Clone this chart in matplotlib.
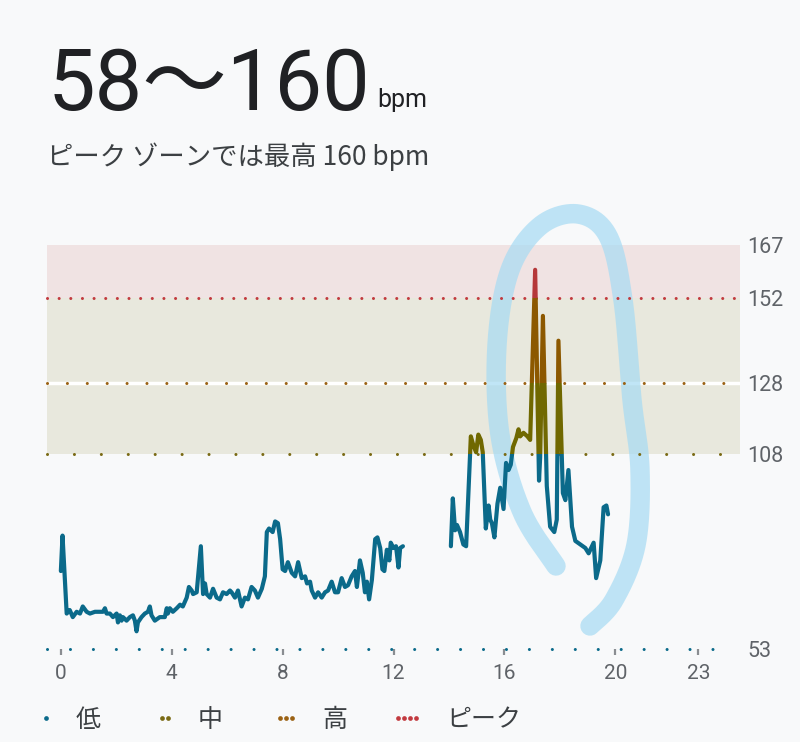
import numpy as np
import matplotlib
matplotlib.use("Agg")
from matplotlib import pyplot as plt
from matplotlib.patches import Rectangle
from matplotlib.lines import Line2D

# ── data ──────────────────────────────────────────────────────────────────────
# heart rate, first recording block (hour of day / bpm)
hours_a = [0.00, 0.06, 0.21, 0.32, 0.43, 0.57, 0.69, 0.79, 0.93, 1.05, 1.23, 1.41,
           1.52, 1.59, 1.65, 1.77, 1.88, 2.01, 2.06, 2.13, 2.19, 2.24, 2.37, 2.49,
           2.60, 2.67, 2.73, 2.78, 2.91, 3.03, 3.14, 3.21, 3.27, 3.39, 3.57, 3.75,
           3.82, 3.86, 3.93, 4.04, 4.18, 4.30, 4.40, 4.54, 4.62, 4.72, 4.77, 4.90,
           5.05, 5.13, 5.20, 5.26, 5.38, 5.49, 5.62, 5.74, 5.85, 5.98, 6.10, 6.16,
           6.28, 6.39, 6.52, 6.64, 6.75, 6.88, 7.00, 7.11, 7.25, 7.36, 7.43, 7.51,
           7.64, 7.73, 7.83, 7.91, 8.00, 8.09, 8.19, 8.33, 8.45, 8.56, 8.69, 8.81,
           8.88, 8.99, 9.05, 9.17, 9.28, 9.41, 9.53, 9.64, 9.77, 9.89, 10.00, 10.13,
           10.25, 10.36, 10.49, 10.61, 10.68, 10.79, 10.89, 10.97, 11.04, 11.12, 11.22,
           11.34, 11.42, 11.52, 11.60, 11.67, 11.76, 11.85, 11.90, 12.00, 12.09, 12.18,
           12.24, 12.34]
bpm_a = [75, 85, 63, 64, 62, 63.5, 63, 65, 63.5, 63, 63.5, 63.5,
         63.5, 64.5, 63, 63, 62, 63, 60.5, 62.5, 61, 62, 61, 62,
         62.5, 61, 58, 60.5, 62, 63, 63.5, 65, 62.5, 61, 62, 62,
         64.5, 63, 64.5, 63.5, 64.5, 65.5, 65, 67.5, 70.5, 69.5, 68.5, 69,
         82, 68.5, 71.5, 68.5, 67.5, 70, 67.5, 67, 69, 68.5, 69.5, 69,
         67.5, 69.5, 65, 67.5, 67, 70.5, 69.5, 67.5, 70, 73.5, 86, 87,
         86, 89, 88.5, 84, 75.5, 75, 77.5, 74.5, 73.5, 77.5, 73, 73.5,
         71.5, 72, 69.5, 67.5, 69, 67.5, 69, 69.5, 72, 69, 69, 73,
         70.5, 71, 73.5, 75, 70.5, 78, 74.5, 69, 72, 67, 72.5,
         84, 84.5, 81.5, 75.5, 75, 81, 78, 83, 81.5, 82, 76,
         81.5, 82]

# second recording block
hours_b = [14.07, 14.14, 14.22, 14.29, 14.40, 14.52, 14.62, 14.79, 14.88, 14.98,
           15.06, 15.15, 15.22, 15.33, 15.43, 15.49, 15.55, 15.64, 15.75, 15.85,
           15.97, 16.06, 16.15, 16.23, 16.31, 16.43, 16.51, 16.57, 16.69, 16.83,
           16.93, 17.11, 17.25, 17.29, 17.39, 17.53, 17.65, 17.80, 17.89, 17.95,
           18.11, 18.20, 18.31, 18.44, 18.56, 18.74, 18.92, 19.04, 19.22, 19.31,
           19.46, 19.58, 19.68, 19.74]
bpm_b = [82, 95.5, 86.5, 88, 86, 82.5, 82, 113, 110.5, 108.5,
         113.5, 112, 108.5, 87, 93.5, 89.5, 88.5, 84.5, 94, 98.5,
         92.5, 105.5, 103.5, 105, 110, 112.5, 115, 113, 114, 113,
         112, 160, 100.5, 107, 147, 99, 87.5, 86, 89.5, 140,
         97, 95, 103.5, 87.5, 83.5, 82.5, 81.5, 80, 83, 73,
         78, 93, 93.5, 91]

zone_edges = [53, 108, 128, 152, 167]
zone_names = ["低", "中", "高", "ピーク"]
x_ticks = [0, 4, 8, 12, 16, 20, 23]

# ── style ─────────────────────────────────────────────────────────────────────
W, H = 800, 742
BG = "#f8f9fa"
LINE_COLORS = ["#0b6a8a", "#706800", "#8c5800", "#b5383a"]
DOT_COLORS = ["#0b6a8a", "#7a6a14", "#9b6214", "#c23a3f"]
DOT_GAPS = [7.5, 8.8, 6.5, 3.8]
JP = ["Noto Sans CJK JP", "DejaVu Sans"]
NUM = ["Roboto", "Noto Sans CJK JP", "DejaVu Sans"]

plt.rcParams["font.family"] = NUM

fig = plt.figure(figsize=(W / 100, H / 100), dpi=100, facecolor=BG)
ax = fig.add_axes([47 / W, 1 - 649 / H, (740 - 47) / W, (649 - 245) / H])
ax.set_facecolor(BG)
ax.set_xlim(-0.5, 24.5)
ax.set_ylim(zone_edges[0], zone_edges[-1])
for s in ax.spines.values():
    s.set_visible(False)

# zone bands
ax.axhspan(zone_edges[3], zone_edges[4], fc="#f0e3e3", lw=0, zorder=0)
ax.axhspan(zone_edges[1], zone_edges[3], fc="#e8e8dd", lw=0, zorder=0)
ax.axhline(zone_edges[2], color="white", lw=2.5, zorder=0.5)

# zone boundary dotted lines
for val, c, gap in zip(zone_edges[:4], DOT_COLORS, DOT_GAPS):
    xmax = 0.964 if val == zone_edges[0] else 1.0
    ax.axhline(val, xmax=xmax, color=c, lw=2.2, ls=(0, (0.01, gap)),
               dash_capstyle="round", clip_on=False, zorder=3)


# highlighter stroke
def _smooth(pts, n=24):
    p = np.array(pts, float)
    p = np.vstack([p[0], p, p[-1]])
    out = []
    t = np.linspace(0, 1, n, endpoint=False)[:, None]
    for i in range(1, len(p) - 2):
        p0, p1, p2, p3 = p[i - 1], p[i], p[i + 1], p[i + 2]
        out.append(0.5 * (2 * p1 + (-p0 + p2) * t + (2 * p0 - 5 * p1 + 4 * p2 - p3) * t ** 2
                          + (-p0 + 3 * p1 - 3 * p2 + p3) * t ** 3))
    out.append(p[-2][None])
    return np.vstack(out)


stroke = _smooth([(556, 566), (522, 512), (500, 435), (497, 345), (510, 270), (540, 226),
                  (578, 214), (608, 236), (623, 300), (632, 400), (640, 470), (636, 545),
                  (614, 600), (590, 626)])
ax.add_line(Line2D(stroke[:, 0] / W, 1 - stroke[:, 1] / H, transform=fig.transFigure,
                   color="#a6dbf3", alpha=0.7, lw=14, solid_capstyle="round",
                   clip_on=False, zorder=1.5))

# heart rate line coloured by zone
bands = [(0, zone_edges[1]), (zone_edges[1], zone_edges[2]),
         (zone_edges[2], zone_edges[3]), (zone_edges[3], 250)]
for (lo, hi), c in zip(bands, LINE_COLORS):
    for xs, ys in [(hours_a, bpm_a), (hours_b, bpm_b)]:
        ln, = ax.plot(xs, ys, color=c, lw=3.0, solid_joinstyle="round",
                      solid_capstyle="round", zorder=4)
        clip = Rectangle((-5, lo), 40, hi - lo, transform=ax.transData)
        ln.set_clip_path(clip)

# axes
ax.set_xticks(x_ticks)
ax.tick_params(axis="x", length=4, width=1.6, color="#8a8d91", pad=7,
               labelsize=15, labelcolor="#5f6368")
ax.yaxis.tick_right()
ax.set_yticks(zone_edges)
ax.tick_params(axis="y", length=0, pad=5, labelsize=15.5, labelcolor="#5f6368")

# header
fig.text(48 / W, 1 - 110 / H, "58〜160", fontsize=61, color="#202124",
         family=NUM, va="baseline")
fig.text(377 / W, 1 - 107 / H, "bpm", fontsize=18, color="#202124",
         family=NUM, va="baseline")
fig.text(47 / W, 1 - 157 / H, "ピーク ゾーンでは最高 160 bpm", fontsize=19,
         color="#3c4043", family=JP, va="center")

# legend
legend_x = [46, 162, 280, 398]
for i, (name, c) in enumerate(zip(zone_names, DOT_COLORS)):
    xs = legend_x[i] + np.arange(i + 1) * 6
    fig.add_artist(Line2D(xs / W, np.full(len(xs), 1 - 718 / H), ls="none",
                          marker="o", ms=3.4, mew=0, color=c, transform=fig.transFigure))
    fig.text((xs[-1] + 30) / W, 1 - 720 / H, name, fontsize=18, color="#3c4043",
             family=JP, va="center")

fig.savefig("out.png", dpi=100, facecolor=BG)
